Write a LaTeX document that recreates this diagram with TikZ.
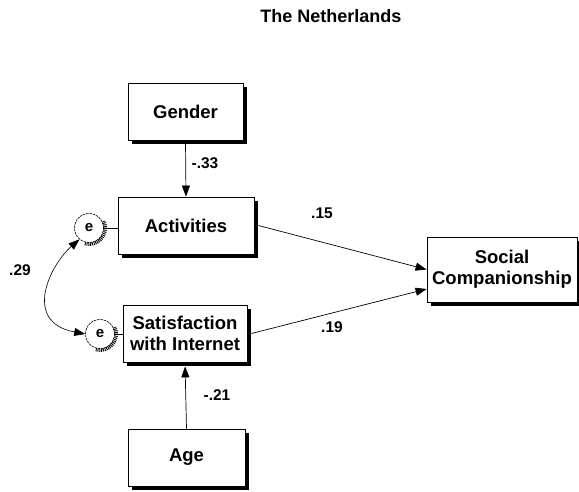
\documentclass[tikz,border=0pt]{standalone}
\usepackage{fontspec}
\setmainfont{Liberation Sans}
\usetikzlibrary{arrows.meta,shadows}
\begin{document}
\begin{tikzpicture}[x=1pt,y=1pt,
  varbox/.style={draw=black, line width=0.8pt, fill=white, align=center,
    font=\fontsize{18.5}{21}\selectfont\bfseries, inner sep=0pt,
    drop shadow={shadow xshift=4pt, shadow yshift=-4pt, fill=black, opacity=1}},
  errc/.style={circle, draw=black, line width=0.6pt, dash pattern=on 2.5pt off 0.8pt,
    fill=white, minimum size=29pt, inner sep=0pt, font=\fontsize{15}{17}\selectfont\bfseries},
  lbl/.style={font=\fontsize{15.5}{17}\selectfont\bfseries, inner sep=0pt},
  path/.style={line width=0.7pt, -{Triangle[length=11pt,width=8pt]}},
  hatch/.style={line width=3.5pt, dash pattern=on 0.9pt off 0.9pt}
]
\useasboundingbox (0,0) rectangle (579,-491);

\node[lbl, font=\fontsize{18}{20}\selectfont\bfseries] (title) at (331,-16) {The Netherlands};

\node[varbox, minimum width=115pt, minimum height=57pt] (gender) at (185.5,-111.5) {Gender};
\node[varbox, minimum width=136pt, minimum height=57pt] (act) at (186,-225.5) {Activities};
\node[varbox, minimum width=124pt, minimum height=57pt] (sat) at (185,-333.5) {Satisfaction\\with Internet};
\node[varbox, minimum width=117pt, minimum height=57pt] (age) at (186.5,-457.5) {Age};
\node[varbox, minimum width=150pt, minimum height=65pt] (soc) at (502,-269.5) {Social\\Companionship};

% error terms
\node[errc] (e1) at (89,-228) {e};
\node[errc] (e2) at (100,-334) {e};
\draw[hatch] (e1.center) ++(-105:16.2) arc[start angle=-105, end angle=25, radius=16.2];
\draw[hatch] (e2.center) ++(-105:16.2) arc[start angle=-105, end angle=25, radius=16.2];
\draw[line width=0.7pt] (e1.east) -- (e1.east -| act.west);
\draw[line width=0.7pt] (e2.east) -- (e2.east -| sat.west);

% paths
\draw[path] (gender.south) -- (act.north);
\draw[path, shorten >=4pt] (age.north) -- (sat.south);
\draw[path] ([xshift=4pt]act.east) -- (soc.west);
\draw[path] ([xshift=4pt]sat.east) -- ([yshift=-19.5pt]soc.west);

% covariance
\draw[line width=0.6pt, {Triangle[length=11pt,width=8pt]}-{Triangle[length=11pt,width=8pt]}]
  (e1.230) .. controls (50,-265) and (22,-322) .. (e2.west);

% labels
\node[lbl] (l33) at (205,-163) {-.33};
\node[lbl] (l21) at (217,-395) {-.21};
\node[lbl] (l15) at (322,-213) {.15};
\node[lbl] (l19) at (332,-327) {.19};
\node[lbl] (l29) at (20,-270) {.29};
\end{tikzpicture}
\end{document}
